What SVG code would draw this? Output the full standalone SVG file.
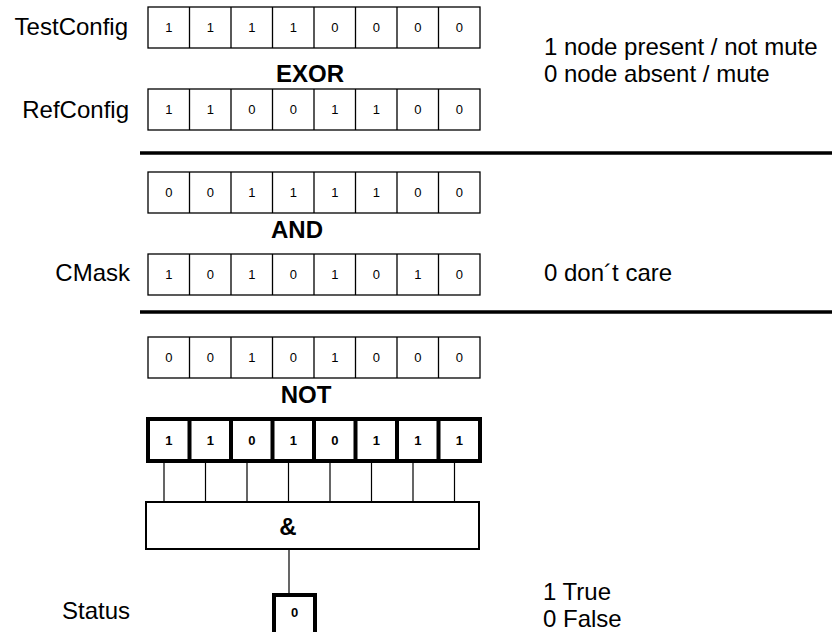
<svg xmlns="http://www.w3.org/2000/svg" width="832" height="632" viewBox="0 0 832 632">
<style>
  .lbl{font-family:"Liberation Sans",Arial,sans-serif;font-size:24px;fill:#000}
  .op{font-family:"Liberation Sans",Arial,sans-serif;font-size:24px;font-weight:bold;fill:#000;text-anchor:middle}
  .d{font-family:"Liberation Sans",Arial,sans-serif;font-size:13px;fill:#000;text-anchor:middle}
  .db{font-family:"Liberation Sans",Arial,sans-serif;font-size:13px;font-weight:bold;fill:#000;text-anchor:middle}
  .cell{fill:#fff;stroke:#000;stroke-width:1.3}
  .bcell{fill:#fff;stroke:#000;stroke-width:4}
  .sep{stroke:#000;stroke-width:1.3}
  .bsep{stroke:#000;stroke-width:4}
  .wire{stroke:#000;stroke-width:1.2;fill:none}
  .bar{stroke:#000;stroke-width:3.5}
</style>
<rect width="832" height="632" fill="#fff"/>

<!-- labels -->
<text class="lbl" x="128" y="35" text-anchor="end">TestConfig</text>
<text class="lbl" x="129" y="118" text-anchor="end" font-size="23">RefConfig</text>
<text class="lbl" x="130" y="281" text-anchor="end">CMask</text>
<text class="lbl" x="130" y="619" text-anchor="end">Status</text>

<text class="lbl" x="544" y="55">1 node present / not mute</text>
<text class="lbl" x="544" y="82">0 node absent / mute</text>
<text class="lbl" x="544" y="281">0 don´t care</text>
<text class="lbl" x="543" y="600">1 True</text>
<text class="lbl" x="543" y="627">0 False</text>

<text class="op" x="310" y="82">EXOR</text>
<text class="op" x="297" y="238">AND</text>
<text class="op" x="306" y="403">NOT</text>

<g id="testconfig">
  <rect class="cell" x="148" y="7" width="332" height="41"/>
  <path class="sep" d="M189.5 7V48M231 7V48M272.5 7V48M314 7V48M355.5 7V48M397 7V48M438.5 7V48"/>
  <g class="d">
    <text x="168.8" y="32">1</text><text x="210.3" y="32">1</text><text x="251.8" y="32">1</text><text x="293.3" y="32">1</text>
    <text x="334.8" y="32">0</text><text x="376.3" y="32">0</text><text x="417.8" y="32">0</text><text x="459.3" y="32">0</text>
  </g>
</g>

<g id="refconfig">
  <rect class="cell" x="148" y="89" width="332" height="41"/>
  <path class="sep" d="M189.5 89V130M231 89V130M272.5 89V130M314 89V130M355.5 89V130M397 89V130M438.5 89V130"/>
  <g class="d">
    <text x="168.8" y="114">1</text><text x="210.3" y="114">1</text><text x="251.8" y="114">0</text><text x="293.3" y="114">0</text>
    <text x="334.8" y="114">1</text><text x="376.3" y="114">1</text><text x="417.8" y="114">0</text><text x="459.3" y="114">0</text>
  </g>
</g>

<line class="bar" x1="140" y1="153" x2="832" y2="153"/>

<g id="exor-result">
  <rect class="cell" x="148" y="172" width="332" height="41"/>
  <path class="sep" d="M189.5 172V213M231 172V213M272.5 172V213M314 172V213M355.5 172V213M397 172V213M438.5 172V213"/>
  <g class="d">
    <text x="168.8" y="197">0</text><text x="210.3" y="197">0</text><text x="251.8" y="197">1</text><text x="293.3" y="197">1</text>
    <text x="334.8" y="197">1</text><text x="376.3" y="197">1</text><text x="417.8" y="197">0</text><text x="459.3" y="197">0</text>
  </g>
</g>

<g id="cmask">
  <rect class="cell" x="148" y="254" width="332" height="41"/>
  <path class="sep" d="M189.5 254V295M231 254V295M272.5 254V295M314 254V295M355.5 254V295M397 254V295M438.5 254V295"/>
  <g class="d">
    <text x="168.8" y="279">1</text><text x="210.3" y="279">0</text><text x="251.8" y="279">1</text><text x="293.3" y="279">0</text>
    <text x="334.8" y="279">1</text><text x="376.3" y="279">0</text><text x="417.8" y="279">1</text><text x="459.3" y="279">0</text>
  </g>
</g>

<line class="bar" x1="140" y1="312" x2="832" y2="312"/>

<g id="and-result">
  <rect class="cell" x="148" y="337" width="332" height="41"/>
  <path class="sep" d="M189.5 337V378M231 337V378M272.5 337V378M314 337V378M355.5 337V378M397 337V378M438.5 337V378"/>
  <g class="d">
    <text x="168.8" y="362">0</text><text x="210.3" y="362">0</text><text x="251.8" y="362">1</text><text x="293.3" y="362">0</text>
    <text x="334.8" y="362">1</text><text x="376.3" y="362">0</text><text x="417.8" y="362">0</text><text x="459.3" y="362">0</text>
  </g>
</g>

<g id="not-result">
  <rect class="bcell" x="148" y="419" width="332" height="42"/>
  <path class="bsep" d="M189.5 419V461M231 419V461M272.5 419V461M314 419V461M355.5 419V461M397 419V461M438.5 419V461"/>
  <g class="db">
    <text x="168.8" y="445">1</text><text x="210.3" y="445">1</text><text x="251.8" y="445">0</text><text x="293.3" y="445">1</text>
    <text x="334.8" y="445">0</text><text x="376.3" y="445">1</text><text x="417.8" y="445">1</text><text x="459.3" y="445">1</text>
  </g>
</g>

<g id="connectors">
  <path class="wire" d="M164 461V502M205.5 461V502M247 461V502M288.5 461V502M330 461V502M371.5 461V502M413 461V502M454.5 461V502"/>
  <path class="wire" d="M289 549V595"/>
</g>

<g id="and-gate">
  <rect x="146" y="502" width="333" height="47" fill="#fff" stroke="#000" stroke-width="2"/>
  <text class="op" x="288" y="535">&amp;</text>
</g>

<g id="status">
  <rect class="bcell" x="274" y="595" width="41" height="60"/>
  <text class="db" x="294.5" y="617">0</text>
</g>
</svg>
